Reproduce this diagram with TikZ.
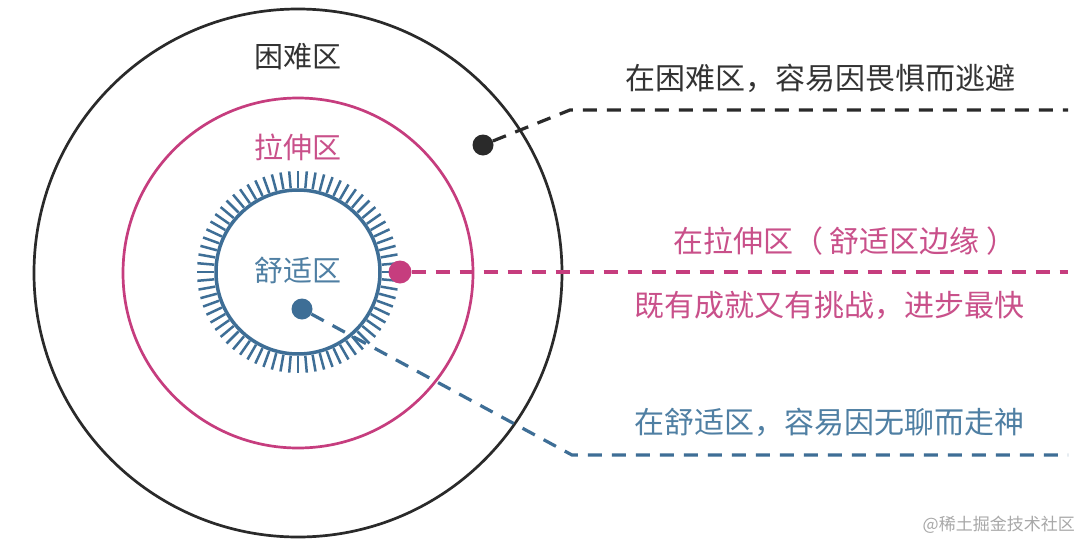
\documentclass[tikz,border=0pt]{standalone}
\usepackage{fontspec}
\setmainfont{Noto Sans CJK SC}
\definecolor{darkline}{HTML}{2A2A2A}
\definecolor{darktext}{HTML}{333333}
\definecolor{pinkline}{HTML}{C63D7E}
\definecolor{pinktext}{HTML}{C9508A}
\definecolor{blueline}{HTML}{3E6E96}
\definecolor{bluetext}{HTML}{4F7FA3}
\definecolor{wmgray}{HTML}{A8A8A8}
\begin{document}
\begin{tikzpicture}[x=1pt,y=-1pt,
  ring/.style={circle, draw, line width=2.7pt, inner sep=0pt},
  dotnode/.style={circle, inner sep=0pt, minimum size=21pt},
  dashline/.style={line width=3.2pt, dash pattern=on 14pt off 10pt},
  zonelabel/.style={font=\fontsize{29}{32}\selectfont, inner sep=0pt},
  sidetext/.style={font=\fontsize{30}{34}\selectfont, inner sep=0pt}]
\useasboundingbox (0,0) rectangle (1080,544);
\fill[white] (0,0) rectangle (1080,544);
% rings
\node[ring, draw=darkline, minimum size=528pt] (outer) at (298,273) {};
\node[ring, draw=pinkline, minimum size=350pt] (middle) at (298,273) {};
\node[ring, draw=blueline, line width=3.5pt, minimum size=164pt] (inner) at (298,272) {};
\foreach \a in {0,5,...,355}
  \draw[blueline, line width=2.5pt] ([shift={(\a:84pt)}]inner.center) -- ([shift={(\a:101pt)}]inner.center);
% zone labels
\node[zonelabel, text=darktext] (hard) at (298,57) {困难区};
\node[zonelabel, text=pinktext] (stretch) at (298,147) {拉伸区};
\node[zonelabel, text=bluetext] (comfort) at (298,270) {舒适区};
% dots
\node[dotnode, fill=darkline] (bdot) at (483,145) {};
\node[dotnode, fill=pinkline, minimum size=23pt] (pdot) at (400,272) {};
\node[dotnode, fill=blueline] (ldot) at (302,309) {};
% connectors
\coordinate (belbow) at (570,110);
\coordinate (bend) at (1068,110);
\coordinate (pend) at (1068,272);
\coordinate (lelbow) at (572,455);
\coordinate (lend) at (1068,455);
\draw[dashline, darkline] (bdot) -- (belbow) -- (bend);
\draw[dashline, pinkline] (pdot) -- (pend);
\draw[dashline, blueline] (ldot) -- (lelbow) -- (lend);
% side texts
\node[sidetext, text=darktext] (t1) at (820,78) {在困难区，容易因畏惧而逃避};
\node[sidetext, text=pinktext] (t2) at (845,241) {在拉伸区（\hspace{7pt}舒适区边缘\hspace{7pt}）};
\node[sidetext, text=pinktext] (t3) at (829,305) {既有成就又有挑战，进步最快};
\node[sidetext, text=bluetext] (t4) at (829,422) {在舒适区，容易因无聊而走神};
% watermark
\node[font=\fontsize{17}{20}\selectfont, text=wmgray, anchor=east, inner sep=0pt] (wm) at (1075,525) {@稀土掘金技术社区};
\end{tikzpicture}
\end{document}
